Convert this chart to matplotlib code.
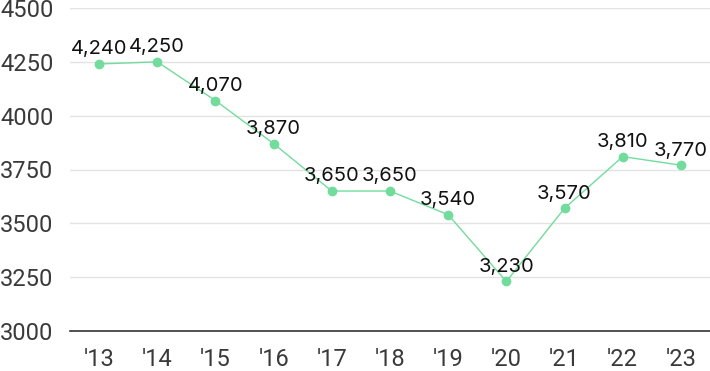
import matplotlib.pyplot as plt

years = ["'13", "'14", "'15", "'16", "'17", "'18", "'19", "'20", "'21", "'22", "'23"]
values = [4240, 4250, 4070, 3870, 3650, 3650, 3540, 3230, 3570, 3810, 3770]
yticks = [3000, 3250, 3500, 3750, 4000, 4250, 4500]

plt.rcParams['font.family'] = ['Inter', 'DejaVu Sans']

fig = plt.figure(figsize=(7.1, 3.71), dpi=100)
ax = fig.add_axes([70/710, 1 - 331/371, 640/710, 323/371])

x = list(range(len(years)))
ax.plot(x, values, color='#72dc9c', lw=1, marker='o', ms=6, mec='#72dc9c', mfc='#72dc9c', zorder=3)
for xi, v in zip(x, values):
    ax.annotate(f"{v:,}", (xi, v), xytext=(0, 4), textcoords='offset points',
                ha='center', va='bottom', fontsize=14.5, color='#111111')

ax.set_xlim(-0.5, len(years) - 0.5)
ax.set_ylim(3000, 4500)
ax.set_yticks(yticks)
ax.set_yticklabels([str(t) for t in yticks], family=['Roboto', 'DejaVu Sans'])
ax.set_xticks(x)
ax.set_xticklabels(years, family=['Roboto', 'DejaVu Sans'])
ax.grid(axis='y', color='#e3e3e3', lw=1)
ax.set_axisbelow(True)
for s in ['top', 'right', 'left']:
    ax.spines[s].set_visible(False)
ax.spines['bottom'].set_color('#333333')
ax.spines['bottom'].set_linewidth(1.2)
ax.tick_params(axis='both', length=0, labelsize=17, labelcolor='#3a3a3a')
ax.tick_params(axis='y', pad=12)
ax.tick_params(axis='x', pad=12)

fig.savefig('out.png', dpi=100)
